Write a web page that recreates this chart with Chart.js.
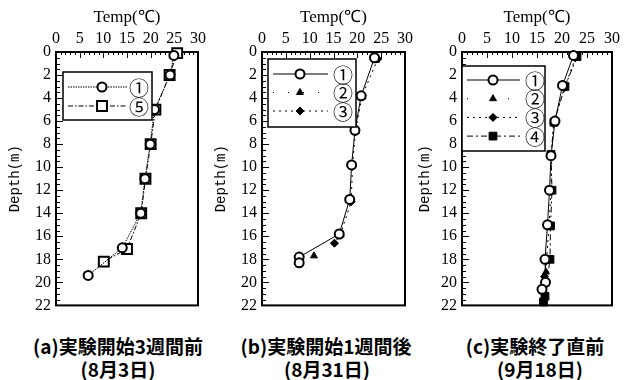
<!DOCTYPE html>
<html>
<head>
<meta charset="utf-8">
<script src="https://cdn.jsdelivr.net/npm/chart.js@4/dist/chart.umd.min.js"></script>
<style>
  body { margin: 0; background: #fff; width: 632px; height: 380px; position: relative; overflow: hidden; }
  canvas { position: absolute; top: 0; }
  .cap { position: absolute; font-family: "Noto Sans CJK JP"; font-weight: 700; font-size: 19px; line-height: 21px;
         color: #000; white-space: nowrap; transform: translateX(-50%); text-align: center; }
</style>
</head>
<body>
<canvas id="chartA" width="210" height="320" style="left:0px"></canvas>
<canvas id="chartB" width="207" height="320" style="left:210px"></canvas>
<canvas id="chartC" width="215" height="320" style="left:417px"></canvas>

<div class="cap" style="left:118px; top:335px">(a)実験開始3週間前</div>
<div class="cap" style="left:118px; top:358px">(8月3日)</div>
<div class="cap" style="left:326px; top:335px">(b)実験開始1週間後</div>
<div class="cap" style="left:327px; top:358px">(8月31日)</div>
<div class="cap" style="left:535px; top:335px">(c)実験終了直前</div>
<div class="cap" style="left:540px; top:358px">(9月18日)</div>

<script>
// series names
const names = ['①', '②', '③', '④', '⑤'];

// (a) 3 weeks before the start, Aug 3
const depthA1 = [0.3, 2, 5, 8, 11, 14, 17, 19.4];
const tempA1  = [24.9, 24.1, 20.8, 19.9, 18.8, 17.9, 14.0, 6.8];
const depthA5 = [0.1, 2, 5, 8, 11, 14, 17.1, 18.2];
const tempA5  = [25.6, 24.0, 21.0, 20.0, 18.9, 18.0, 15.0, 10.1];

// (b) 1 week after the start, Aug 31
const depthB1 = [0.5, 3.8, 6.8, 9.8, 12.8, 15.8, 17.8, 18.3];
const tempB1  = [23.6, 20.8, 19.5, 18.8, 18.4, 16.2, 7.8, 7.8];
const depthB2 = [0.7, 3.9, 6.9, 9.9, 12.9, 15.9, 17.7];
const tempB2  = [24.0, 21.1, 19.7, 19.0, 18.6, 16.5, 10.9];
const depthB3 = [0.6, 3.8, 6.9, 9.9, 13.0, 15.9, 16.6];
const tempB3  = [24.3, 21.0, 19.6, 19.0, 18.7, 16.4, 15.2];

// (c) just before the end, Sep 18
const depthC1 = [0.3, 2.9, 6.0, 9.0, 12.0, 15.0, 18.0, 20.0, 20.6];
const tempC1  = [22.3, 20.1, 18.6, 17.8, 17.5, 17.1, 16.6, 16.7, 16.0];
const depthC2 = [0.5, 3.0, 6.1, 9.1, 12.1, 15.1, 18.1, 19.1, 19.8];
const tempC2  = [22.6, 20.4, 18.4, 17.9, 17.7, 17.3, 16.8, 16.8, 16.5];
const depthC3 = [0.5, 3.1, 6.2, 9.1, 12.1, 15.1, 18.1, 19.5, 20.3];
const tempC3  = [22.7, 20.5, 18.3, 17.9, 17.8, 17.4, 16.9, 16.5, 16.4];
const depthC4 = [0.4, 3.0, 6.1, 8.9, 12.0, 15.1, 18.0, 21.2, 21.7];
const tempC4  = [23.0, 20.6, 18.4, 17.8, 18.0, 17.7, 17.6, 16.6, 16.3];

// axis ranges
const tempRange = [0, 30];
const depthRange = [0, 22];

const circle  = { pointStyle: 'circle',  pointRadius: 4.5, pointBackgroundColor: '#fff', pointBorderWidth: 2 };
const openSq  = { pointStyle: 'rect',    pointRadius: 7,   pointBackgroundColor: '#fff', pointBorderWidth: 2 };
const tri     = { pointStyle: 'triangle', pointRadius: 4,  pointBackgroundColor: '#000', pointBorderWidth: 1 };
const diamond = { pointStyle: 'rectRot', pointRadius: 4,   pointBackgroundColor: '#000', pointBorderWidth: 1 };
const fillSq  = { pointStyle: 'rect',    pointRadius: 5.5, pointBackgroundColor: '#000', pointBorderWidth: 1 };

function series(label, temps, depths, marker, dash) {
  return Object.assign({
    label: label,
    data: temps.map((t, i) => ({ x: t, y: depths[i] })),
    showLine: true,
    borderColor: '#000',
    borderWidth: 1,
    borderDash: dash,
    pointBorderColor: '#000',
    clip: false
  }, marker);
}

// frame + inward ticks, drawn under the data
const frameTicks = {
  id: 'frameTicks',
  beforeDatasetsDraw(chart) {
    const { ctx, chartArea: ca, scales: { x, y } } = chart;
    ctx.save();
    ctx.strokeStyle = '#000';
    ctx.lineWidth = 1;
    ctx.beginPath();
    for (let v = x.min; v <= x.max; v += 1) {
      const px = Math.round(x.getPixelForValue(v)) + 0.5;
      const len = v % 5 === 0 ? 6 : 3;
      ctx.moveTo(px, ca.top); ctx.lineTo(px, ca.top + len);
    }
    for (let v = y.min; v <= y.max; v += 0.5) {
      const py = Math.round(y.getPixelForValue(v)) + 0.5;
      const len = v % 2 === 0 ? 7 : 4;
      ctx.moveTo(ca.left, py); ctx.lineTo(ca.left + len, py);
    }
    ctx.stroke();
    ctx.lineWidth = 2;
    ctx.strokeRect(ca.left, ca.top, ca.right - ca.left, ca.bottom - ca.top);
    ctx.restore();
  }
};

// boxed legend inside the plot area
const boxLegend = {
  id: 'boxLegend',
  afterDatasetsDraw(chart, args, o) {
    const { ctx, chartArea: ca } = chart;
    const x0 = ca.left + o.x, y0 = ca.top + o.y;
    ctx.save();
    ctx.fillStyle = '#fff';
    ctx.fillRect(x0, y0, o.w, o.h);
    ctx.strokeStyle = '#000';
    ctx.lineWidth = 1.5;
    ctx.strokeRect(x0, y0, o.w, o.h);
    chart.data.datasets.forEach((ds, i) => {
      const yy = y0 + o.first + i * o.gap;
      ctx.lineWidth = 1;
      ctx.setLineDash(ds.legendDash || ds.borderDash || []);
      ctx.beginPath();
      ctx.moveTo(x0 + 5, yy); ctx.lineTo(x0 + o.lineEnd, yy);
      ctx.stroke();
      ctx.setLineDash([]);
      ctx.fillStyle = ds.pointBackgroundColor;
      ctx.strokeStyle = '#000';
      ctx.lineWidth = ds.pointBorderWidth;
      Chart.helpers.drawPoint(ctx, { pointStyle: ds.pointStyle, radius: ds.pointRadius, rotation: 0, borderWidth: ds.pointBorderWidth }, x0 + o.mark, yy);
      ctx.fillStyle = '#000';
      ctx.font = '20px "Noto Sans CJK JP"';
      ctx.textAlign = 'center';
      ctx.textBaseline = 'middle';
      ctx.fillText(ds.label, x0 + o.labelX, yy + 1);
    });
    ctx.restore();
  }
};

function makeChart(id, datasets, yWidth, padRight, titlePad, legendBox) {
  return new Chart(document.getElementById(id), {
    type: 'scatter',
    data: { datasets: datasets },
    options: {
      responsive: false,
      animation: false,
      layout: { padding: { left: 0, right: padRight, top: 0, bottom: 5 } },
      plugins: { legend: { display: false }, tooltip: { enabled: false }, boxLegend: legendBox },
      scales: {
        x: {
          type: 'linear', position: 'top', min: tempRange[0], max: tempRange[1],
          grid: { display: false, drawTicks: false }, border: { display: false },
          ticks: { stepSize: 5, color: '#000', padding: 4, maxRotation: 0,
                   font: { family: '"Liberation Serif"', size: 16 } },
          title: { display: true, text: 'Temp(℃)', color: '#000', padding: { top: 7, bottom: 0 },
                   font: { family: '"Liberation Serif"', size: 17 } },
          afterFit(s) { s.height = 52; }
        },
        y: {
          type: 'linear', reverse: true, min: depthRange[0], max: depthRange[1],
          grid: { display: false, drawTicks: false }, border: { display: false },
          ticks: { stepSize: 2, color: '#000', padding: 5,
                   font: { family: '"Liberation Serif"', size: 16 } },
          title: { display: true, text: 'Depth(m)', color: '#000', padding: { top: titlePad, bottom: 0 },
                   font: { family: '"Liberation Mono"', size: 14 } },
          afterFit(s) { s.width = yWidth; }
        }
      }
    },
    plugins: [frameTicks, boxLegend]
  });
}

makeChart('chartA', [
  series(names[0], tempA1, depthA1, circle, [1.5, 1]),
  series(names[4], tempA5, depthA5, openSq, [5, 2, 1.5, 2])
], 56, 6, 7, { x: 7, y: 20, w: 89, h: 48, first: 15, gap: 19, lineEnd: 64, mark: 39, labelX: 76 });

makeChart('chartB', [
  series(names[0], tempB1, depthB1, circle, []),
  Object.assign(series(names[1], tempB2, depthB2, tri, [1, 14]), { showLine: false, legendDash: [1, 14] }),
  series(names[2], tempB3, depthB3, diamond, [2, 4])
], 52, 6, 3, { x: 6, y: 7, w: 88, h: 68, first: 15, gap: 18.5, lineEnd: 60, mark: 32, labelX: 75 });

makeChart('chartC', [
  series(names[0], tempC1, depthC1, circle, []),
  Object.assign(series(names[1], tempC2, depthC2, tri, [1, 14]), { showLine: false, legendDash: [1, 40] }),
  series(names[2], tempC3, depthC3, diamond, [2, 4]),
  series(names[3], tempC4, depthC4, fillSq, [6, 3, 2, 3])
], 45, 20, 0, { x: 0, y: 14, w: 83, h: 85, first: 14, gap: 18.7, lineEnd: 58, mark: 31, labelX: 73 });
</script>
</body>
</html>
